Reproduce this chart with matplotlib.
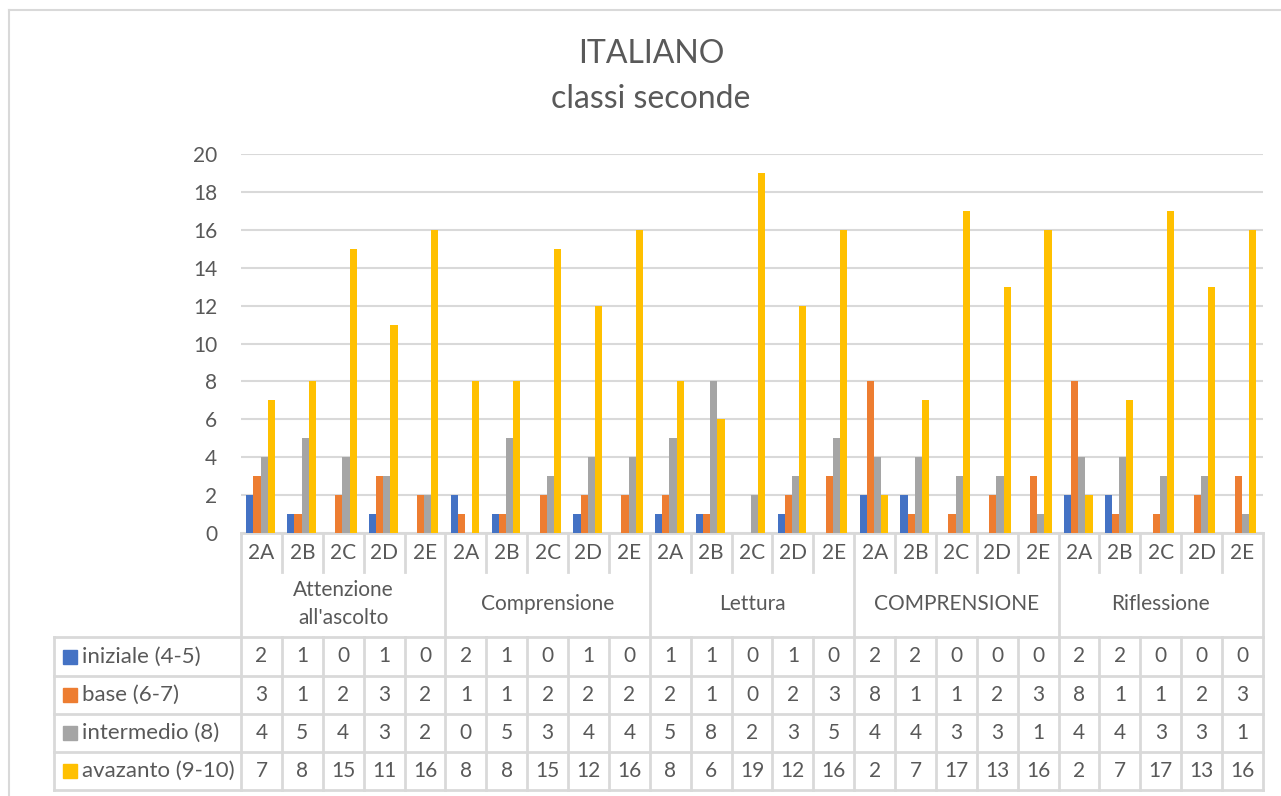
import numpy as np
import matplotlib.pyplot as plt

plt.rcParams['font.family'] = ['Lato', 'DejaVu Sans']

groups = ["Attenzione\nall'ascolto", "Comprensione", "Lettura", "COMPRENSIONE", "Riflessione"]
classes = ["2A", "2B", "2C", "2D", "2E"]
series = ["iniziale (4-5)", "base (6-7)", "intermedio (8)", "avazanto (9-10)"]
colors = ["#4472C4", "#ED7D31", "#A5A5A5", "#FFC000"]

iniziale = [2, 1, 0, 1, 0, 2, 1, 0, 1, 0, 1, 1, 0, 1, 0, 2, 2, 0, 0, 0, 2, 2, 0, 0, 0]
base = [3, 1, 2, 3, 2, 1, 1, 2, 2, 2, 2, 1, 0, 2, 3, 8, 1, 1, 2, 3, 8, 1, 1, 2, 3]
intermedio = [4, 5, 4, 3, 2, 0, 5, 3, 4, 4, 5, 8, 2, 3, 5, 4, 4, 3, 3, 1, 4, 4, 3, 3, 1]
avanzato = [7, 8, 15, 11, 16, 8, 8, 15, 12, 16, 8, 6, 19, 12, 16, 2, 7, 17, 13, 16, 2, 7, 17, 13, 16]
values = [iniziale, base, intermedio, avanzato]

W, H = 1281, 796
txt = "#595959"
grid = "#D9D9D9"

fig = plt.figure(figsize=(W / 100, H / 100), dpi=100)

# plot area in pixels
x0, x1 = 241, 1263
y0, ytop = 533, 154
ax = fig.add_axes([x0 / W, 1 - y0 / H, (x1 - x0) / W, (y0 - ytop) / H])

n = len(iniziale)
x = np.arange(n)
w = 0.175
for k in range(4):
    ax.bar(x + (k - 1.5) * w - 0.02, values[k], w, color=colors[k], zorder=3)

ax.set_xlim(-0.5, n - 0.5)
ax.set_ylim(0, 20)
ax.set_yticks(range(0, 21, 2))
ax.yaxis.grid(True, color=grid, linewidth=1.5)
ax.set_xticks([])
ax.tick_params(axis='y', length=0, pad=17, labelsize=15, labelcolor=txt)
for s in ax.spines.values():
    s.set_visible(False)

# overlay in pixel coordinates for title, table and frame
ov = fig.add_axes([0, 0, 1, 1], zorder=-1)
ov.set_xlim(0, W)
ov.set_ylim(H, 0)
ov.axis('off')

ov.text(651, 54, "ITALIANO", ha='center', va='center', fontsize=23, color=txt)
ov.text(651, 99, "classi seconde", ha='center', va='center', fontsize=23, color=txt)

# chart frame
ov.plot([9, 9], [10, H], color=grid, lw=1.5)
ov.plot([9, W], [10, 10], color=grid, lw=1.5)

cw = (x1 - x0) / n
lw = 2
rows = [637, 676, 714, 752, 790]
left = 54

# horizontal lines
ov.plot([x0, x1], [y0, y0], color=grid, lw=lw)
for r in rows:
    ov.plot([left, x1], [r, r], color=grid, lw=lw)

# vertical lines
for i in range(n + 1):
    xx = x0 + i * cw
    if i % 5 == 0:
        ov.plot([xx, xx], [y0, rows[-1]], color=grid, lw=lw)
    else:
        ov.plot([xx, xx], [y0, 572], color=grid, lw=lw)
        ov.plot([xx, xx], [rows[0], rows[-1]], color=grid, lw=lw)
ov.plot([left, left], [rows[0], rows[-1]], color=grid, lw=lw)

# class labels
for i in range(n):
    ov.text(x0 + (i + 0.5) * cw, 553, classes[i % 5], ha='center', va='center',
            fontsize=15, color=txt)

# group labels
for g in range(len(groups)):
    ov.text(x0 + (g * 5 + 2.5) * cw, 604, groups[g], ha='center', va='center',
            fontsize=15, color=txt, linespacing=1.45)

# data rows
for k in range(4):
    yc = (rows[k] + rows[k + 1]) / 2
    ov.add_patch(plt.Rectangle((63, yc - 7), 14, 14, color=colors[k]))
    ov.text(82, yc, series[k], ha='left', va='center', fontsize=16, color=txt)
    for i in range(n):
        ov.text(x0 + (i + 0.5) * cw, yc, str(values[k][i]), ha='center', va='center',
                fontsize=15, color=txt)

fig.savefig("out.png", dpi=100)
